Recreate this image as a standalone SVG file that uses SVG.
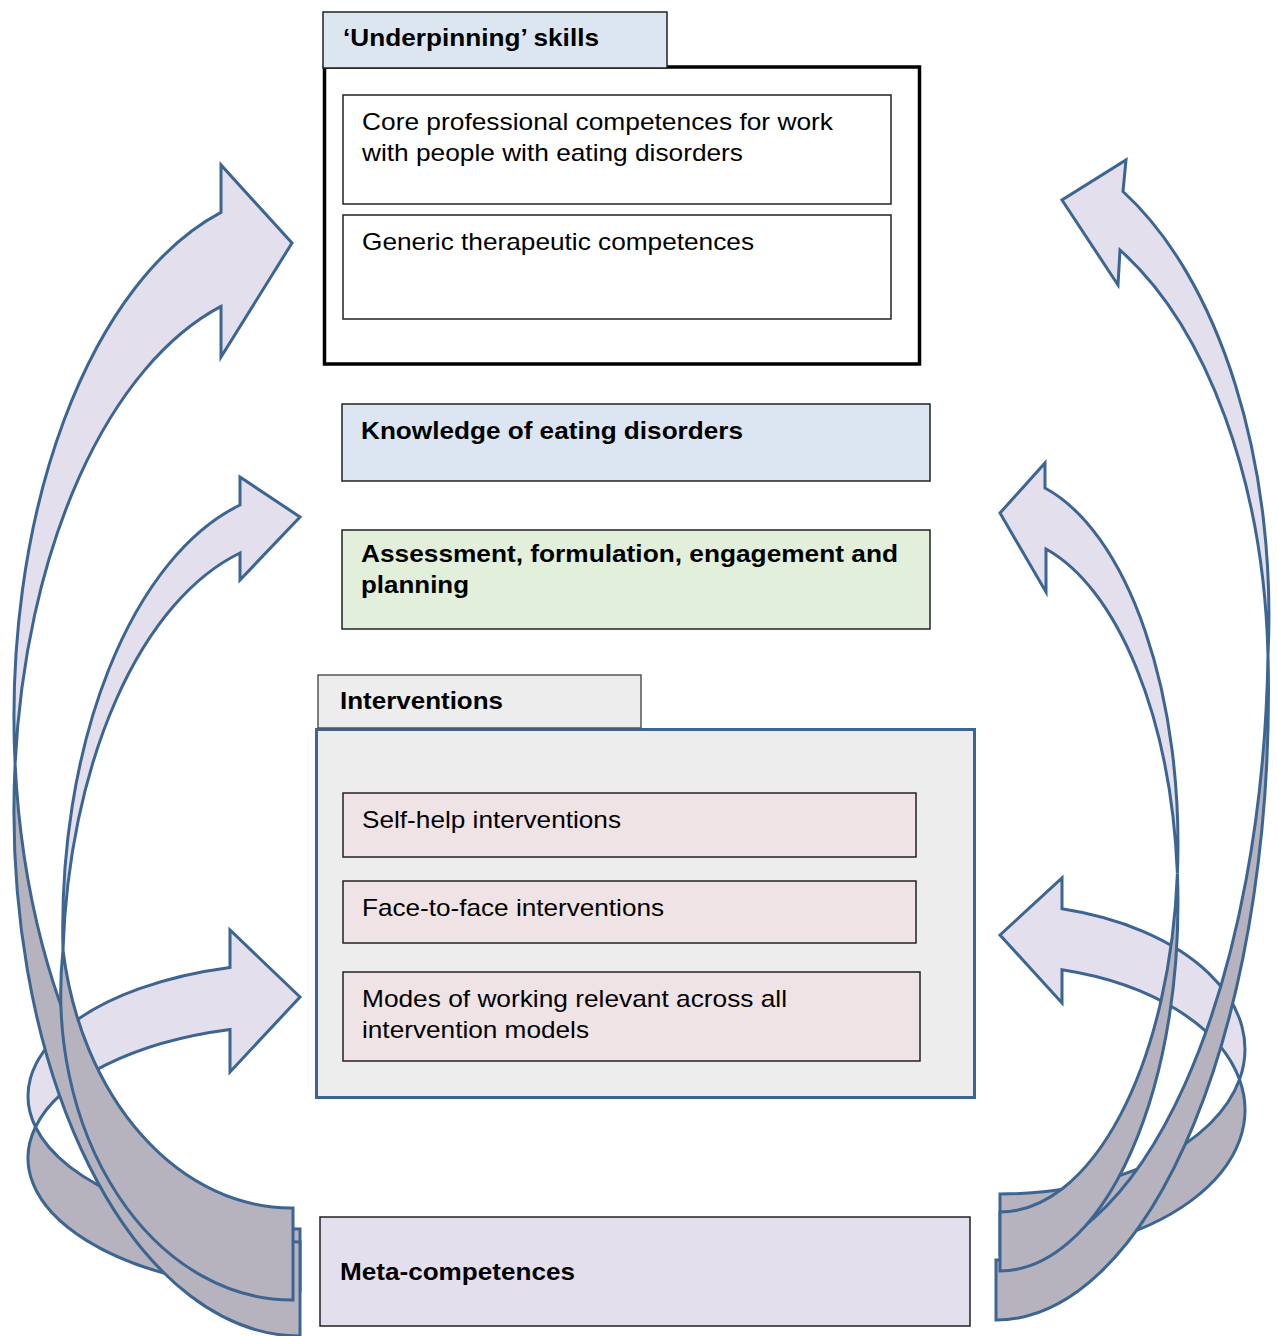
<svg xmlns="http://www.w3.org/2000/svg" width="1277" height="1336" viewBox="0 0 1277 1336">
<style>
.lav{fill:#E4DFEC;stroke:#3C6592;stroke-width:3;stroke-linejoin:miter}
.gry{fill:#B6B3BE;stroke:#3C6592;stroke-width:3;stroke-linejoin:miter}
.t{font-family:"Liberation Sans",Arial,sans-serif;font-size:24px;fill:#000}
.b{font-weight:bold}
.box{stroke:#222;stroke-width:1.5}
</style>
<rect width="1277" height="1336" fill="#fff"/>
<g id="connectors">
  <g id="left-small-arrow">
    <path class="gry" d="M35.5,1127 A272,133 0 0 0 300,1291 L300,1229 A272,133 0 0 1 35.5,1127 Z"/>
    <path class="lav" d="M35.5,1127 A272,133 0 0 1 230,967.5 L230,930 L300,997 L230,1072 L230,1029.5 A272,133 0 0 0 35.5,1127 Z"/>
  </g>
  <g id="left-big-arrow-front">
    <path class="lav" d="M15.1,764 A286,525 0 0 1 221,212.4 L221,165 L292,243 L221,357 L221,306.4 A286,525 0 0 0 15.1,764 Z"/>
  </g>
  <g id="left-medium-arrow-front">
    <path class="lav" d="M63,950 A238,438 0 0 1 240,505 L240,477 L300,517 L240,580 L240,553 A238,438 0 0 0 63,950 Z"/>
  </g>
  <g id="left-big-arrow-back">
    <path class="gry" d="M15.1,764 A286,525 0 0 0 300,1336 L300,1242 A286,525 0 0 1 15.1,764 Z"/>
  </g>
  <g id="left-medium-arrow-back">
    <path class="gry" d="M63,950 A231,307 0 0 0 293,1300 L293,1208 A231,307 0 0 1 63,950 Z"/>
  </g>
  <g id="right-small-arrow">
    <path class="gry" d="M1239.5,1079.5 A245,145 0 0 1 1000,1255 L1000,1194 A245,145 0 0 0 1239.5,1079.5 Z"/>
    <path class="lav" d="M1239.5,1079.5 A245,145 0 0 0 1062,908.8 L1062,878 L1000,935 L1062,1003 L1062,969.8 A245,145 0 0 1 1239.5,1079.5 Z"/>
  </g>
  <g id="right-big-arrow-front">
    <path class="lav" d="M1268,655 A270,477 0 0 0 1123,191.5 L1126,160 L1062,200 L1118,285 L1120,250 A270,477 0 0 1 1268,655 Z"/>
  </g>
  <g id="right-medium-arrow-front">
    <path class="lav" d="M1177.4,873.5 A178,368 0 0 0 1045,488 L1045,463 L1000,513 L1046,592 L1046,549 A178,368 0 0 1 1177.4,873.5 Z"/>
  </g>
  <g id="right-big-arrow-back">
    <path class="gry" d="M1268,655 A272,628 0 0 1 996,1320 L996,1260 A272,628 0 0 0 1268,655 Z"/>
  </g>
  <g id="right-medium-arrow-back">
    <path class="gry" d="M1177.4,873.5 A178,368 0 0 1 1000,1271 L1000,1212 A178,368 0 0 0 1177.4,873.5 Z"/>
  </g>
</g>

<g id="underpinning">
  <rect x="324.5" y="67" width="595" height="297" fill="#fff" stroke="#000" stroke-width="3.5"/>
  <rect class="box" x="323" y="12" width="344" height="56" fill="#DCE6F0"/>
  <text class="t b" x="343" y="46" textLength="256" lengthAdjust="spacingAndGlyphs">‘Underpinning’ skills</text>
</g>
<g id="core">
  <rect class="box" x="343" y="95" width="548" height="109" fill="#fff"/>
  <text class="t" x="362" y="130" textLength="471" lengthAdjust="spacingAndGlyphs">Core professional competences for work</text>
  <text class="t" x="362" y="161" textLength="381" lengthAdjust="spacingAndGlyphs">with people with eating disorders</text>
</g>
<g id="generic">
  <rect class="box" x="343" y="215" width="548" height="104" fill="#fff"/>
  <text class="t" x="362" y="250" textLength="392" lengthAdjust="spacingAndGlyphs">Generic therapeutic competences</text>
</g>
<g id="knowledge">
  <rect class="box" x="342" y="404" width="588" height="77" fill="#DCE6F2" stroke="#444"/>
  <text class="t b" x="361" y="439" textLength="382" lengthAdjust="spacingAndGlyphs">Knowledge of eating disorders</text>
</g>
<g id="assessment">
  <rect class="box" x="342" y="530" width="588" height="99" fill="#E2EFDA"/>
  <text class="t b" x="361" y="562" textLength="537" lengthAdjust="spacingAndGlyphs">Assessment, formulation, engagement and</text>
  <text class="t b" x="361" y="593" textLength="108" lengthAdjust="spacingAndGlyphs">planning</text>
</g>
<g id="interventions">
  <rect x="316.5" y="729.5" width="658" height="368" fill="#EDEDED" stroke="#3C6592" stroke-width="3"/>
  <rect x="318" y="675" width="323" height="53" fill="#EDEDED" stroke="#555" stroke-width="1.5"/>
  <text class="t b" x="340" y="709" textLength="163" lengthAdjust="spacingAndGlyphs">Interventions</text>
</g>
<g id="selfhelp">
  <rect class="box" x="343" y="793" width="573" height="64" fill="#EFE3E5"/>
  <text class="t" x="362" y="828" textLength="259" lengthAdjust="spacingAndGlyphs">Self-help interventions</text>
</g>
<g id="facetoface">
  <rect class="box" x="343" y="881" width="573" height="62" fill="#EFE3E5"/>
  <text class="t" x="362" y="916" textLength="302" lengthAdjust="spacingAndGlyphs">Face-to-face interventions</text>
</g>
<g id="modes">
  <rect class="box" x="343" y="972" width="577" height="89" fill="#EFE3E5"/>
  <text class="t" x="362" y="1007" textLength="425" lengthAdjust="spacingAndGlyphs">Modes of working relevant across all</text>
  <text class="t" x="362" y="1038" textLength="227" lengthAdjust="spacingAndGlyphs">intervention models</text>
</g>
<g id="meta">
  <rect class="box" x="320" y="1217" width="650" height="109" fill="#E4DFEC" stroke="#444"/>
  <text class="t b" x="340" y="1280" textLength="235" lengthAdjust="spacingAndGlyphs">Meta-competences</text>
</g>
</svg>
